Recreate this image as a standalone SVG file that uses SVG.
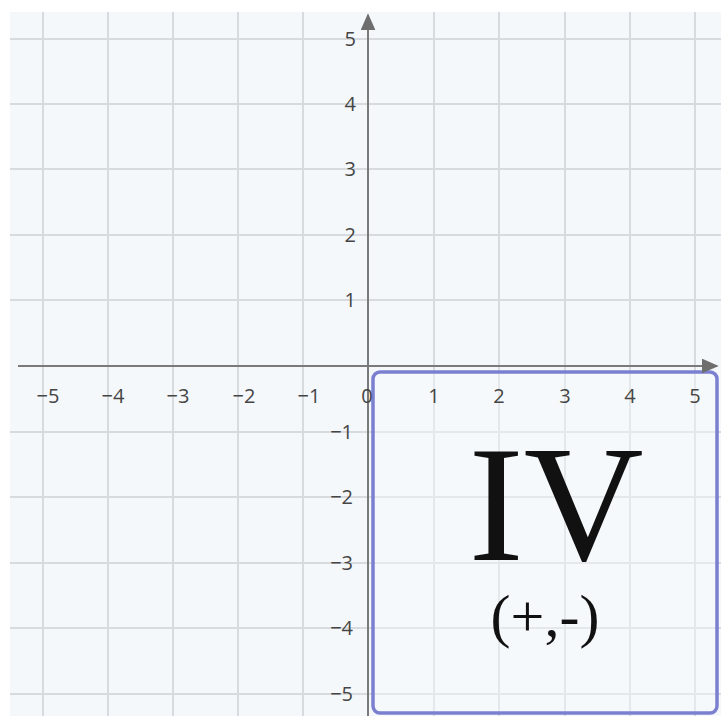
<svg xmlns="http://www.w3.org/2000/svg" width="721" height="716" viewBox="0 0 721 716">
<style>
.grid line{stroke:#d7dbe0;stroke-width:2}
.axis{stroke:#7a7a7a;stroke-width:2}
.lab{font-family:"Open Sans","DejaVu Sans",sans-serif;font-size:20px;fill:#454545}
.xl{text-anchor:middle}
.yl{text-anchor:end}
.big{font-family:"Liberation Serif","Times New Roman",serif;fill:#111;text-anchor:middle}
</style>
<defs>
<marker id="arr" viewBox="0 0 10 10" refX="9" refY="5" markerWidth="17" markerHeight="15" markerUnits="userSpaceOnUse" orient="auto" preserveAspectRatio="none">
<path d="M0,0 L10,5 L0,10 Z" fill="#6e6e6e"/>
</marker>
</defs>
<rect x="0" y="0" width="721" height="716" fill="#ffffff"/>
<rect x="10" y="12" width="711" height="704" fill="#f5f8fb"/>
<g id="grid" class="grid">
<line x1="43" y1="12" x2="43" y2="716"/>
<line x1="108" y1="12" x2="108" y2="716"/>
<line x1="173" y1="12" x2="173" y2="716"/>
<line x1="238" y1="12" x2="238" y2="716"/>
<line x1="303" y1="12" x2="303" y2="716"/>
<line x1="434" y1="12" x2="434" y2="716"/>
<line x1="499" y1="12" x2="499" y2="716"/>
<line x1="565" y1="12" x2="565" y2="716"/>
<line x1="630" y1="12" x2="630" y2="716"/>
<line x1="695" y1="12" x2="695" y2="716"/>
<line x1="10" y1="39" x2="721" y2="39"/>
<line x1="10" y1="104" x2="721" y2="104"/>
<line x1="10" y1="169" x2="721" y2="169"/>
<line x1="10" y1="235" x2="721" y2="235"/>
<line x1="10" y1="300" x2="721" y2="300"/>
<line x1="10" y1="432" x2="721" y2="432"/>
<line x1="10" y1="497" x2="721" y2="497"/>
<line x1="10" y1="563" x2="721" y2="563"/>
<line x1="10" y1="628" x2="721" y2="628"/>
<line x1="10" y1="694" x2="721" y2="694"/>
</g>
<g id="quadrant-iv">
<rect x="373" y="372" width="344" height="341" rx="7" fill="#f7f9fc" fill-opacity="0.4" stroke="#7b7fd0" stroke-width="3.5"/>
<text class="big" x="556" y="560" font-size="166">IV</text>
<text class="big" x="545" y="636" font-size="60">(+,-)</text>
</g>
<g id="axes">
<line class="axis" x1="368" y1="716" x2="368" y2="15" marker-end="url(#arr)"/>
<line class="axis" x1="18" y1="366" x2="717" y2="366" marker-end="url(#arr)"/>
</g>
<g id="x-labels" class="lab xl">
<text x="48" y="403">−5</text>
<text x="113" y="403">−4</text>
<text x="178" y="403">−3</text>
<text x="244" y="403">−2</text>
<text x="309" y="403">−1</text>
<text x="367" y="403">0</text>
<text x="434" y="403">1</text>
<text x="499" y="403">2</text>
<text x="565" y="403">3</text>
<text x="630" y="403">4</text>
<text x="695" y="403">5</text>
</g>
<g id="y-labels" class="lab yl">
<text x="356" y="46">5</text>
<text x="356" y="111">4</text>
<text x="356" y="176">3</text>
<text x="356" y="242">2</text>
<text x="356" y="307">1</text>
<text x="353" y="439">−1</text>
<text x="353" y="504">−2</text>
<text x="353" y="570">−3</text>
<text x="353" y="635">−4</text>
<text x="353" y="701">−5</text>
</g>
</svg>
